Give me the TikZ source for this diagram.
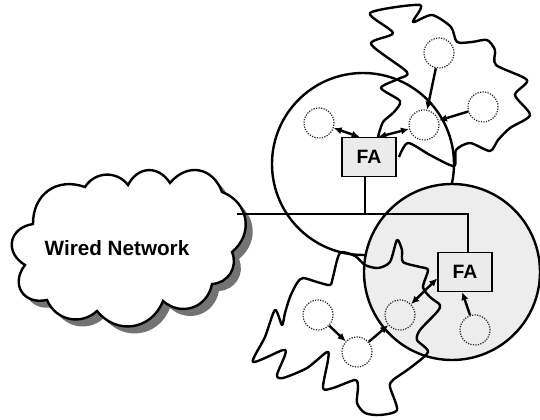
\documentclass[tikz,border=0pt]{standalone}
\usepackage{fontspec}
\setmainfont{Liberation Sans}
\usetikzlibrary{arrows.meta,calc}

% outline of the wired-network cloud, traced lobe by lobe
\newcommand{\wiredcloudpath}{%
  (25,265) to[bend left=70,looseness=1.5] (33,224)
  to[bend left=55,looseness=1.2] (85,187)
  to[bend left=55,looseness=1.1] (128,185)
  to[bend left=60,looseness=1.3] (170,183)
  to[bend left=60,looseness=1.3] (222,192)
  to[bend left=60,looseness=1.2] (232,252)
  to[bend left=55,looseness=1.1] (212,284)
  to[bend left=60,looseness=1.2] (163,301)
  to[bend left=60,looseness=1.2] (97,311)
  to[bend left=55,looseness=1.1] (47,300)
  to[bend left=70,looseness=1.5] (25,265) -- cycle}

\begin{document}
\begin{tikzpicture}[x=0.75pt,y=-0.75pt,
  bigcell/.style={draw=black,line width=1.8pt,circle,inner sep=0pt},
  mobile/.style={circle,draw=black!85,densely dotted,line width=0.9pt,
    minimum size=22.5pt,inner sep=0pt},
  agent/.style={draw=black,line width=1pt,fill=black!8,
    minimum width=40.5pt,minimum height=29pt,inner sep=0pt,
    font=\bfseries\fontsize{14.5}{14.5}\selectfont},
  wire/.style={line width=2.2pt},
  adhoc/.style={line width=1.8pt,line join=round},
  link/.style={line width=1.8pt,-{Latex[length=6pt,width=5.5pt]}},
  duplex/.style={line width=1.8pt,
    {Latex[length=6pt,width=5.5pt]}-{Latex[length=6pt,width=5.5pt]}},
  cloudline/.style={line width=1.8pt,fill=white},
  cloudshadow/.style={fill=black!55},
]
\useasboundingbox (0,0) rectangle (540,420);

% the two foreign-agent cells
\node[bigcell,minimum size=136.5pt] (cellA) at (363,164) {};
\node[bigcell,fill=black!7,minimum size=132pt] (cellB) at (452,272) {};

% wired network cloud with its drop shadow
\fill[cloudshadow,shift={(7,7)}] \wiredcloudpath;
\draw[cloudline] \wiredcloudpath;
\node[font=\bfseries\fontsize{15.5}{15.5}\selectfont] (wired) at (117,248) {Wired Network};

% foreign agents
\node[agent] (fa1) at (369,157) {FA};
\node[agent] (fa2) at (465,272) {FA};

% backbone wiring
\coordinate (cloudport) at (237,214);
\coordinate (tap) at (365,214);
\draw[wire] (cloudport) -- (tap) -| ([xshift=2.25pt]fa2.north);
\draw[wire] (tap) -- (tap |- fa1.south);

% ad hoc regions
\draw[adhoc] plot[smooth,tension=0.45] coordinates {
  (378,137) (383,122) (394,112) (400,101) (381,88) (398,79) (407,72)
  (371,44) (393,33) (370,13) (420,5) (413,22) (432,15) (451,27) (457,42)
  (472,42) (487,40) (495,50) (496,65) (527,80) (515,95) (530,115)
  (510,128) (498,140) (490,151) (470,143) (456,150) (454,166) (430,155)
  (408,143) (399,157)};
\draw[adhoc] plot[smooth cycle,tension=0.45] coordinates {
  (340,253) (355,256) (365,265) (378,268) (390,262) (397,240) (402,250)
  (403,262) (420,267) (428,270) (423,287) (430,297) (440,305) (437,312)
  (420,330) (417,340) (428,352) (410,368) (393,380) (390,387) (397,410)
  (380,415) (365,413) (357,403) (358,387) (355,380) (333,388) (323,388)
  (328,360) (327,352) (307,368) (283,378) (277,375) (285,355) (283,350)
  (253,362) (265,337) (275,310) (282,325) (285,313) (290,297) (297,283)
  (303,278) (317,282) (330,285) (333,277)};

% mobile nodes
\node[mobile] (mA) at (319,123) {};
\node[mobile] (mB) at (439,53) {};
\node[mobile] (mC) at (424,125) {};
\node[mobile] (mD) at (483,107) {};
\node[mobile] (mE) at (318,315) {};
\node[mobile] (mF) at (357,352) {};
\node[mobile] (mG) at (400,315) {};
\node[mobile] (mH) at (475,330) {};

% message paths
\draw[duplex] (mA) -- (fa1.115);
\draw[duplex] (fa1.65) -- (mC);
\draw[link] (mB) -- (mC);
\draw[link] (mD) -- (mC);
\draw[duplex] (fa2.193) -- (mG);
\draw[link] (mH) -- (fa2.262);
\draw[link] (mE) -- (mF);
\draw[link] (mF) -- (mG);
\end{tikzpicture}
\end{document}
